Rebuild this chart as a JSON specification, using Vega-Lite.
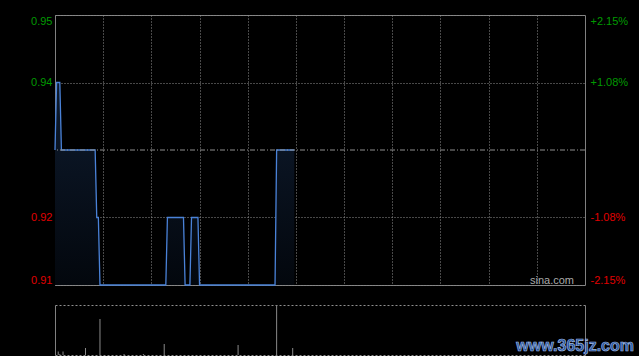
{
  "$schema": "https://vega.github.io/schema/vega-lite/v6.json",
  "background": "#000000",
  "padding": {"left": 30, "top": 14, "right": 5, "bottom": 0},
  "bounds": "flush",
  "spacing": 20,
  "config": {
    "view": {"stroke": null},
    "font": "Liberation Sans",
    "axis": {"labelFont": "Liberation Sans", "labelFontSize": 11, "title": null}
  },
  "datasets": {
    "price": [
      {"minute": 0, "price": 0.93},
      {"minute": 1, "price": 0.94},
      {"minute": 3, "price": 0.94},
      {"minute": 4, "price": 0.93},
      {"minute": 25, "price": 0.93},
      {"minute": 26, "price": 0.92},
      {"minute": 27, "price": 0.92},
      {"minute": 28, "price": 0.91},
      {"minute": 69, "price": 0.91},
      {"minute": 70, "price": 0.92},
      {"minute": 80, "price": 0.92},
      {"minute": 81, "price": 0.91},
      {"minute": 84, "price": 0.91},
      {"minute": 85, "price": 0.92},
      {"minute": 89, "price": 0.92},
      {"minute": 90, "price": 0.91},
      {"minute": 137, "price": 0.91},
      {"minute": 138, "price": 0.93},
      {"minute": 149, "price": 0.93}
    ],
    "volume": [
      {"minute": 2, "vol": 7},
      {"minute": 3, "vol": 2},
      {"minute": 5, "vol": 7},
      {"minute": 19, "vol": 14},
      {"minute": 28, "vol": 72},
      {"minute": 43, "vol": 2},
      {"minute": 55, "vol": 2},
      {"minute": 68, "vol": 22},
      {"minute": 114, "vol": 20},
      {"minute": 138, "vol": 100},
      {"minute": 148, "vol": 14}
    ]
  },
  "vconcat": [
    {
      "width": 530,
      "height": 270,
      "view": {"stroke": "#808080", "strokeWidth": 1},
      "layer": [
        {
          "layer": [
            {
              "data": {"name": "price"},
              "mark": {
                "type": "area",
                "color": {
                  "gradient": "linear",
                  "x1": 0, "y1": 0, "x2": 0, "y2": 1,
                  "stops": [
                    {"offset": 0, "color": "#0e1b2e"},
                    {"offset": 1, "color": "#03070d"}
                  ]
                }
              },
              "encoding": {
                "x": {
                  "field": "minute", "type": "quantitative",
                  "scale": {"domain": [0, 330], "nice": false, "zero": false},
                  "axis": {
                    "values": [30, 60, 90, 120, 150, 180, 210, 240, 270, 300],
                    "labels": false, "ticks": false, "domain": false,
                    "grid": true, "gridColor": "#909090", "gridDash": [1, 2], "gridWidth": 1
                  }
                },
                "y": {
                  "field": "price", "type": "quantitative",
                  "scale": {"domain": [0.91, 0.95], "nice": false, "zero": false},
                  "axis": {
                    "values": [0.91, 0.92, 0.94, 0.95],
                    "format": ".2f",
                    "labelFlush": true,
                    "ticks": false, "domain": false, "labelPadding": 3,
                    "grid": true, "gridColor": "#909090", "gridDash": [1, 2],
                    "labelColor": {"condition": {"test": "datum.value > 0.93", "value": "#009a00"}, "value": "#e00000"}
                  }
                },
                "y2": {"datum": 0.91}
              }
            },
            {
              "data": {"name": "price"},
              "mark": {"type": "line", "color": "#4a82d8", "strokeWidth": 1.3},
              "encoding": {
                "x": {"field": "minute", "type": "quantitative"},
                "y": {"field": "price", "type": "quantitative"}
              }
            },
            {
              "data": {"values": [{"label": "sina.com"}]},
              "mark": {"type": "text", "align": "right", "baseline": "alphabetic", "dx": -11, "dy": -1.5, "fontSize": 11, "color": "#aaaaaa", "font": "Liberation Sans"},
              "encoding": {
                "x": {"datum": 330, "type": "quantitative"},
                "y": {"datum": 0.91, "type": "quantitative"},
                "text": {"field": "label"}
              }
            }
          ]
        },
        {
          "data": {"values": [{"prevClose": 0.93}]},
          "mark": {"type": "rule", "color": "#909090", "strokeDash": [5, 2, 1, 2], "strokeWidth": 1},
          "encoding": {
            "y": {
              "field": "prevClose", "type": "quantitative",
              "scale": {"domain": [0.91, 0.95], "nice": false, "zero": false},
              "axis": {
                "orient": "right",
                "values": [0.91, 0.92, 0.94, 0.95],
                "labelExpr": "(datum.value > 0.93 ? '+' : '-') + format(abs(datum.value / 0.93 - 1) * 100, '.2f') + '%'",
                "labelFlush": true,
                "ticks": false, "domain": false, "grid": false, "labelPadding": 5,
                "labelColor": {"condition": {"test": "datum.value > 0.93", "value": "#009a00"}, "value": "#e00000"}
              }
            }
          }
        }
      ],
      "resolve": {"scale": {"y": "independent"}}
    },
    {
      "width": 530,
      "height": 50,
      "layer": [
        {
          "layer": [
            {
              "data": {"name": "volume"},
              "mark": {"type": "rule", "color": "#8a8a8a", "strokeWidth": 1},
              "encoding": {
                "x": {
                  "field": "minute", "type": "quantitative",
                  "scale": {"domain": [0, 330], "nice": false, "zero": false},
                  "axis": null
                },
                "y": {
                  "field": "vol", "type": "quantitative",
                  "scale": {"domain": [0, 100], "nice": false},
                  "axis": {
                    "values": [0, 50, 100],
                    "labels": false, "ticks": false,
                    "domain": true, "domainColor": "#808080",
                    "grid": true, "gridColor": "#909090", "gridDash": [2, 2]
                  }
                },
                "y2": {"datum": 0}
              }
            },
            {
              "data": {"values": [{"label": "www.365jz.com"}]},
              "mark": {"type": "text", "align": "right", "baseline": "alphabetic", "dx": 49, "dy": -4, "fontSize": 16, "fontWeight": "bold", "font": "Liberation Sans", "fill": "#24509a", "stroke": "#9fb8e0", "strokeWidth": 0.7},
              "encoding": {
                "x": {"datum": 330, "type": "quantitative"},
                "y": {"datum": 0, "type": "quantitative"},
                "text": {"field": "label"}
              }
            }
          ]
        },
        {
          "data": {"values": [{"v": 0}]},
          "mark": {"type": "rule", "opacity": 0},
          "encoding": {
            "y": {
              "field": "v", "type": "quantitative",
              "scale": {"domain": [0, 100], "nice": false},
              "axis": {"orient": "right", "labels": false, "ticks": false, "grid": false, "domain": true, "domainColor": "#808080"}
            }
          }
        }
      ],
      "resolve": {"scale": {"y": "independent"}}
    }
  ]
}
